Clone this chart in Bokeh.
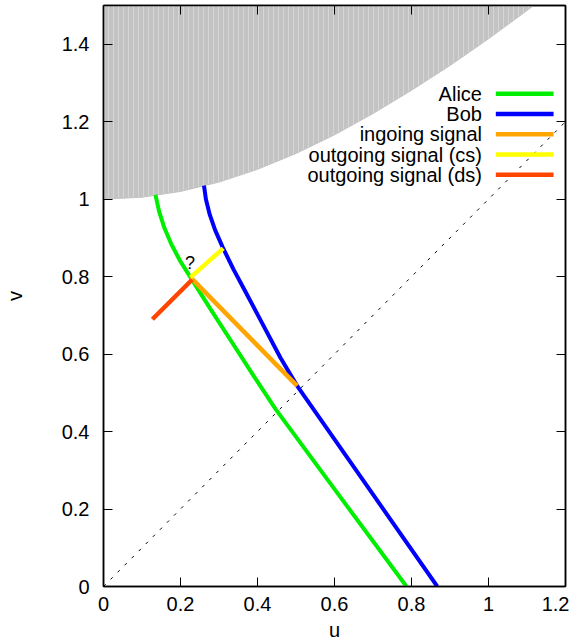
from bokeh.plotting import figure
from bokeh.models import Range1d, LinearAxis, FixedTicker
from bokeh.core.properties import value
from bokeh.embed import file_html
from bokeh.resources import INLINE

# ---------------- data ----------------
x_ticks = [0, 0.2, 0.4, 0.6, 0.8, 1.0, 1.2]
x_tick_labels = ["0", "0.2", "0.4", "0.6", "0.8", "1", "1.2"]
y_ticks = [0, 0.2, 0.4, 0.6, 0.8, 1.0, 1.2, 1.4]
y_tick_labels = ["0", "0.2", "0.4", "0.6", "0.8", "1", "1.2", "1.4"]

# singularity boundary (grey region lies above it)
sing_u = [0.0, 0.1, 0.2, 0.3, 0.4, 0.5, 0.6, 0.7, 0.8, 0.9, 1.0, 1.1, 1.2]
sing_v = [1.0, 1.005, 1.02, 1.044, 1.077, 1.118, 1.166, 1.221, 1.281, 1.345, 1.414, 1.487, 1.562]

alice_u = [0.135, 0.1444, 0.158, 0.1763, 0.1988, 0.226, 0.278, 0.334, 0.390, 0.447, 0.601, 0.787]
alice_v = [1.011, 0.9685, 0.926, 0.8835, 0.841, 0.798, 0.716, 0.630, 0.544, 0.458, 0.250, 0.0]

bob_u = [0.261, 0.266, 0.276, 0.290, 0.310, 0.337, 0.365, 0.412, 0.460, 0.503, 0.685, 0.867]
bob_v = [1.035, 1.000, 0.960, 0.920, 0.875, 0.820, 0.768, 0.680, 0.590, 0.518, 0.259, 0.0]

ingoing_u = [0.503, 0.226]
ingoing_v = [0.518, 0.798]
out_cs_u = [0.226, 0.311]
out_cs_v = [0.798, 0.873]
out_ds_u = [0.230, 0.127]
out_ds_v = [0.792, 0.690]

diag_u = [0.0, 1.2]
diag_v = [0.0, 1.2]

question_u = [0.225]
question_v = [0.835]

series_names = ["Alice", "Bob", "ingoing signal", "outgoing signal (cs)", "outgoing signal (ds)"]
series_colors = ["#00ee00", "#0000ff", "#ffa500", "#ffff00", "#ff4500"]

FONT = "Liberation Sans"

# ---------------- figure ----------------
p = figure(frame_width=462, frame_height=581,
           x_range=Range1d(0, 1.2), y_range=Range1d(0, 1.5),
           output_backend="svg", toolbar_location=None,
           min_border_left=99, min_border_right=4,
           min_border_top=5, min_border_bottom=0)
p.xgrid.visible = False
p.ygrid.visible = False
p.outline_line_color = "black"
p.outline_line_width = 1.5
p.background_fill_color = "white"

def style_axis(ax, ticks, labels, show_labels=True):
    ax.ticker = FixedTicker(ticks=ticks)
    ax.major_tick_in = 9
    ax.major_tick_out = 0
    ax.minor_tick_line_color = None
    ax.major_tick_line_color = "black"
    ax.major_tick_line_width = 1
    ax.axis_line_color = "black"
    ax.axis_line_width = 1.5
    if show_labels:
        ax.major_label_overrides = {t: l for t, l in zip(ticks, labels)}
        ax.major_label_text_font = FONT
        ax.major_label_text_color = "black"
        ax.major_label_text_font_size = "20px"
        ax.axis_label_text_font = FONT
        ax.axis_label_text_font_style = "normal"
        ax.axis_label_text_color = "black"
        ax.axis_label_text_font_size = "20px"
    else:
        ax.major_label_text_color = None
        ax.major_label_text_font_size = "0px"
        ax.major_label_standoff = 0
        ax.axis_label = None

xa = p.xaxis[0]
style_axis(xa, x_ticks, x_tick_labels)
xa.axis_label = "u"
xa.major_label_standoff = 10
xa.axis_label_standoff = 5

ya = p.yaxis[0]
style_axis(ya, y_ticks, y_tick_labels)
ya.axis_label = "v"
ya.major_label_standoff = 14
ya.axis_label_standoff = 33

top_ax = LinearAxis()
style_axis(top_ax, x_ticks, x_tick_labels, show_labels=False)
p.add_layout(top_ax, "above")
right_ax = LinearAxis()
style_axis(right_ax, y_ticks, y_tick_labels, show_labels=False)
p.add_layout(right_ax, "right")

# grey region above the singularity
top_v = 1.6
p.patch(sing_u + [sing_u[-1], sing_u[0]], sing_v + [top_v, top_v],
        fill_color="#c3c3c3", line_color="#c3c3c3", line_width=1,
        hatch_pattern="vertical_line", hatch_color="#d6d6d6", hatch_scale=5, hatch_weight=1)

# diagonal dashed line
p.line(diag_u, diag_v, line_color="black", line_width=1, line_dash="3 7")

# world lines
p.line(alice_u, alice_v, line_color=series_colors[0], line_width=4)
p.line(bob_u, bob_v, line_color=series_colors[1], line_width=4)
p.line(ingoing_u, ingoing_v, line_color=series_colors[2], line_width=4.5)
p.line(out_cs_u, out_cs_v, line_color=series_colors[3], line_width=4.5)
p.line(out_ds_u, out_ds_v, line_color=series_colors[4], line_width=4.5)

p.text(question_u, question_v, text=["?"], text_font=value(FONT),
       text_font_size=value("18px"), text_align="center", text_baseline="middle",
       text_color="black")

# legend (gnuplot style: right-aligned label, sample line to the right)
leg_text_x = 0.983
leg_s0 = 1.019
leg_s1 = 1.169
leg_top = 1.272
leg_step = 0.0523
leg_y = [leg_top - i * leg_step for i in range(len(series_names))]
p.text([leg_text_x] * len(series_names), leg_y, text=series_names,
       text_font=value(FONT), text_font_size=value("20px"),
       text_align="right", text_baseline="middle", text_color="black")
p.segment(x0=[leg_s0] * len(series_names), y0=leg_y,
          x1=[leg_s1] * len(series_names), y1=leg_y,
          line_color=series_colors, line_width=4.5)

open("out.html", "w").write(file_html(p, INLINE))
